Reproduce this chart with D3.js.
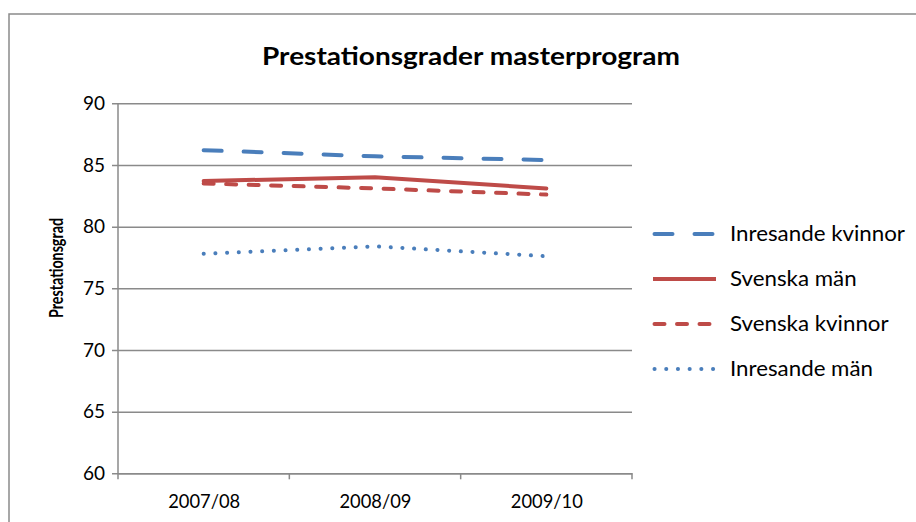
<!DOCTYPE html>
<html>
<head>
<meta charset="utf-8">
<script src="https://cdn.jsdelivr.net/npm/d3@7"></script>
<style>
  body { margin: 0; background: #fff; }
  svg { display: block; font-family: Lato, "Open Sans", sans-serif; }
</style>
</head>
<body>
<div id="chart"></div>
<script>
const years = ['2007/08', '2008/09', '2009/10'];
const seriesNames = ['Inresande kvinnor', 'Svenska män', 'Svenska kvinnor', 'Inresande män'];
const inresandeKvinnor = [86.2, 85.7, 85.4];
const svenskaMan = [83.7, 84.0, 83.1];
const svenskaKvinnor = [83.5, 83.1, 82.6];
const inresandeMan = [77.8, 78.4, 77.6];
const yTicks = [60, 65, 70, 75, 80, 85, 90];

const blue = '#4a7ebb';
const red = '#be4b48';
const styles = [
    { color: blue, dash: '18,22' },
    { color: red, dash: null },
    { color: red, dash: '10,12.5' },
    { color: blue, dash: '0.1,11.6' }
];
const seriesValues = [inresandeKvinnor, svenskaMan, svenskaKvinnor, inresandeMan];

const width = 916, height = 522;
const plot = { left: 118, right: 632, top: 103.3, bottom: 473.3 };

const svg = d3.select('#chart').append('svg')
    .attr('width', width)
    .attr('height', height);

// chart border (runs off the right and bottom edge)
svg.append('rect')
    .attr('x', 9).attr('y', 14)
    .attr('width', 940).attr('height', 540)
    .attr('fill', 'none')
    .attr('stroke', '#8a8a8a')
    .attr('stroke-width', 1.5);

const x = d3.scalePoint()
    .domain(years)
    .range([plot.left, plot.right])
    .padding(0.5);
const y = d3.scaleLinear()
    .domain([60, 90])
    .range([plot.bottom, plot.top]);

// y axis with gridlines
const yAxis = svg.append('g')
    .attr('transform', 'translate(' + plot.left + ',0)')
    .call(d3.axisLeft(y).tickValues(yTicks)
        .tickSize(-(plot.right - plot.left)).tickPadding(13));
yAxis.select('.domain').remove();
yAxis.selectAll('.tick line')
    .attr('stroke', '#8a8a8a').attr('stroke-width', 1.5)
    .attr('x1', -6);
yAxis.selectAll('.tick text')
    .attr('font-size', 19).attr('fill', '#000')
    .attr('font-family', 'Lato, sans-serif');
svg.append('line')
    .attr('x1', plot.left).attr('x2', plot.left)
    .attr('y1', plot.top).attr('y2', plot.bottom)
    .attr('stroke', '#8a8a8a').attr('stroke-width', 1.5);

// x axis
const xAxis = svg.append('g')
    .attr('transform', 'translate(0,' + plot.bottom + ')')
    .call(d3.axisBottom(x).tickSize(0).tickPadding(21));
xAxis.select('.domain')
    .attr('stroke', '#8a8a8a').attr('stroke-width', 1.5);
xAxis.selectAll('.tick text')
    .attr('font-size', 19).attr('fill', '#000')
    .attr('font-family', 'Lato, sans-serif')
    .attr('textLength', 72)
    .attr('lengthAdjust', 'spacingAndGlyphs');
// category boundary ticks
const step = x.step();
xAxis.selectAll('.boundary')
    .data(d3.range(years.length + 1))
    .enter().append('line')
    .attr('x1', i => plot.left + i * step)
    .attr('x2', i => plot.left + i * step)
    .attr('y1', 0).attr('y2', 6)
    .attr('stroke', '#8a8a8a').attr('stroke-width', 1.5);

// title
svg.append('text')
    .attr('x', 471).attr('y', 65)
    .attr('text-anchor', 'middle')
    .attr('font-weight', 'bold')
    .attr('font-size', 25)
    .attr('textLength', 418)
    .attr('lengthAdjust', 'spacingAndGlyphs')
    .text('Prestationsgrader masterprogram');

// y axis title
svg.append('text')
    .attr('transform', 'translate(63,268) rotate(-90)')
    .attr('text-anchor', 'middle')
    .attr('font-weight', 'bold')
    .attr('font-size', 19)
    .attr('textLength', 100)
    .attr('lengthAdjust', 'spacingAndGlyphs')
    .text('Prestationsgrad');

// lines
const line = d3.line()
    .x((d, i) => x(years[i]))
    .y(d => y(d));

svg.append('g').selectAll('path')
    .data(seriesValues)
    .enter().append('path')
    .attr('d', line)
    .attr('fill', 'none')
    .attr('stroke', (d, i) => styles[i].color)
    .attr('stroke-width', 4)
    .attr('stroke-linecap', 'round')
    .attr('stroke-linejoin', 'round')
    .attr('stroke-dasharray', (d, i) => styles[i].dash);

// legend
const legendTop = 234, legendGap = 45;
const legend = svg.append('g').selectAll('g')
    .data(seriesNames)
    .enter().append('g')
    .attr('transform', (d, i) => 'translate(0,' + (legendTop + i * legendGap) + ')');
legend.append('line')
    .attr('x1', (d, i) => i == 1 ? 653 : 654.5)
    .attr('x2', 716)
    .attr('stroke', (d, i) => styles[i].color)
    .attr('stroke-width', 4)
    .attr('stroke-linecap', (d, i) => i == 1 ? 'butt' : 'round')
    .attr('stroke-dasharray', (d, i) => styles[i].dash);
const legendText = legend.append('text')
    .attr('x', 730).attr('dy', '0.35em')
    .attr('font-size', 21)
    .text(d => d);
// keep the widest label at its measured width, scale the rest alike
const widest = legendText.nodes()[0].getComputedTextLength();
legendText.each(function () {
    const w = this.getComputedTextLength();
    d3.select(this)
        .attr('textLength', (w * 175 / widest).toFixed(1))
        .attr('lengthAdjust', 'spacingAndGlyphs');
});
</script>
</body>
</html>
